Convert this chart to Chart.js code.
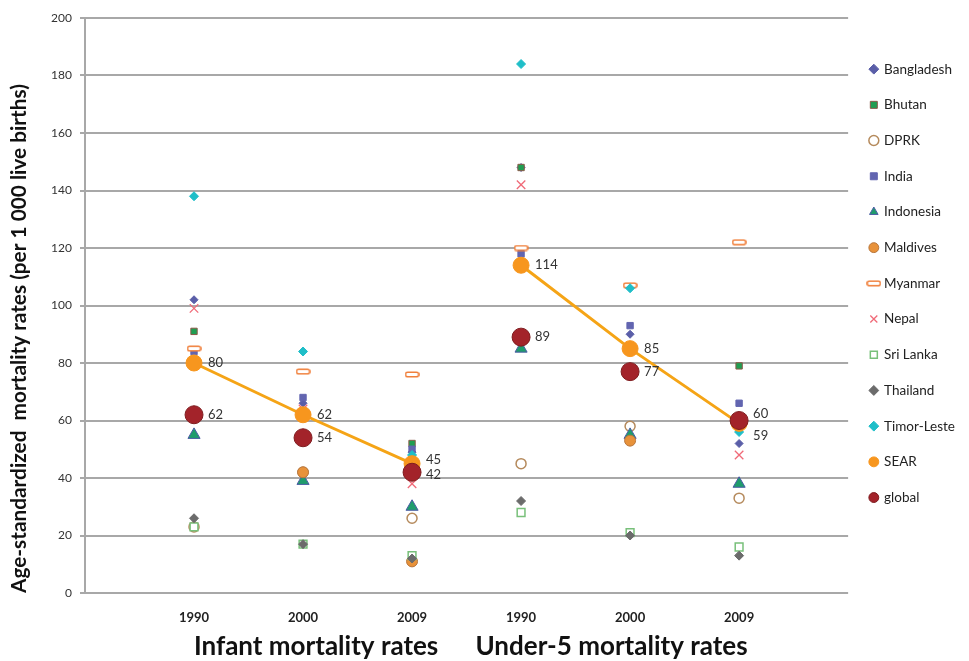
<!DOCTYPE html>
<html>
<head>
<meta charset="utf-8">
<script src="https://cdn.jsdelivr.net/npm/chart.js@4"></script>
<style>
  html, body { margin: 0; padding: 0; background: #fff; }
  #wrap { width: 969px; height: 661px; }
</style>
</head>
<body>
<div id="wrap"><canvas id="mortChart" width="969" height="661"></canvas></div>
<script>
// x positions 1..6 : infant 1990/2000/2009, under-5 1990/2000/2009
let yearLabels = ['1990', '2000', '2009', '1990', '2000', '2009'];
let groupTitles = ['Infant mortality rates', 'Under-5 mortality rates'];

let bangladesh = [102, 66, 49, 148, 90, 52];
let bhutan     = [91, null, 52, 148, null, 79];
let dprk       = [23, 42, 26, 45, 58, 33];
let india      = [84, 68, 50, 118, 93, 66];
let indonesia  = [55, 39, 30, 85, 55, 38];
let maldives   = [null, 42, 11, null, 53, null];
let myanmar    = [85, 77, 76, 120, 107, 122];
let nepal      = [99, 64, 38, 142, null, 48];
let sriLanka   = [23, 17, 13, 28, 21, 16];
let thailand   = [26, 17, 12, 32, 20, 13];
let timorLeste = [138, 84, 48, 184, 106, 56];
let sear       = [80, 62, 45, 114, 85, 59];
let global     = [62, 54, 42, 89, 77, 60];

// little hollow bar used as the Myanmar marker
function makeDash() {
  let c = document.createElement('canvas');
  c.width = 15; c.height = 7;
  let g = c.getContext('2d');
  g.fillStyle = '#fff';
  g.strokeStyle = '#f0803c';
  g.lineWidth = 1.6;
  g.beginPath();
  g.roundRect(1, 1.2, 13, 4.6, 2);
  g.fill();
  g.stroke();
  return c;
}

function toPoints(arr) {
  return arr.map((v, i) => ({x: i + 1, y: v}));
}

// SEAR is a line inside each group, broken between the groups
function searPoints(arr) {
  let pts = toPoints(arr);
  pts.splice(3, 0, {x: 3.5, y: null});
  return pts;
}

function marker(label, data, style, color, border, radius, bw) {
  return {
    label: label,
    data: toPoints(data),
    pointStyle: style,
    backgroundColor: color,
    borderColor: border,
    pointRadius: radius,
    pointBorderWidth: bw,
    showLine: false
  };
}

let datasets = [
  marker('Bangladesh', bangladesh, 'rectRot', '#5a5ea8', '#5a5ea8', 4, 1),
  marker('Bhutan', bhutan, 'rect', '#1f9e52', '#8a5a48', 4.5, 1),
  marker('DPRK', dprk, 'circle', '#ffffff', '#b58a5c', 5, 1.5),
  marker('India', india, 'rect', '#6265b0', '#6265b0', 4.5, 1),
  marker('Indonesia', indonesia, 'triangle', '#1f9c6c', '#4b5aa5', 7, 1),
  marker('Maldives', maldives, 'circle', '#e8923a', '#b8773e', 5.5, 1),
  marker('Myanmar', myanmar, makeDash(), '#f0803c', '#f0803c', 6, 1),
  marker('Nepal', nepal, 'crossRot', '#f06a78', '#f06a78', 6, 1.3),
  marker('Sri Lanka', sriLanka, 'rect', '#ffffff', '#78c07a', 5.5, 1.5),
  marker('Thailand', thailand, 'rectRot', '#6b6b6b', '#6b6b6b', 4.5, 1),
  marker('Timor-Leste', timorLeste, 'rectRot', '#1fbec8', '#1fbec8', 4.5, 1),
  {
    label: 'SEAR',
    data: searPoints(sear),
    pointStyle: 'circle',
    backgroundColor: '#f7961e',
    borderColor: '#f5a416',
    pointBorderColor: '#f7961e',
    pointRadius: 8,
    pointBorderWidth: 1,
    borderWidth: 3,
    showLine: true,
    spanGaps: false
  },
  marker('global', global, 'circle', '#a3232a', '#7e1b1e', 9, 1)
];
// later series sit on top, like the original
datasets.forEach((d, i) => { d.order = -i; });

// value labels next to SEAR and global points (dy per point)
let labelShift = {
  'SEAR':   [0, 0, -4, 0, 0, 12],
  'global': [0, 0, 3, 0, 0, -7]
};

let valueLabels = {
  id: 'valueLabels',
  afterDatasetsDraw(chart) {
    let ctx = chart.ctx;
    ctx.save();
    ctx.font = '13px Lato, "Liberation Sans", sans-serif';
    ctx.fillStyle = '#333';
    ctx.textBaseline = 'middle';
    ctx.textAlign = 'left';
    chart.data.datasets.forEach((ds, di) => {
      let shift = labelShift[ds.label];
      if (!shift) return;
      let meta = chart.getDatasetMeta(di);
      let k = 0;
      meta.data.forEach((el, j) => {
        let raw = ds.data[j];
        if (raw.y === null) return;
        ctx.fillText(String(raw.y), el.x + 14, el.y + shift[k]);
        k++;
      });
    });
    ctx.restore();
  }
};

let groupTitlePlugin = {
  id: 'groupTitles',
  afterDraw(chart) {
    let ctx = chart.ctx;
    let xs = chart.scales.x;
    ctx.save();
    ctx.font = 'bold 26px Lato, "Liberation Sans", sans-serif';
    ctx.fillStyle = '#111';
    ctx.textAlign = 'center';
    ctx.textBaseline = 'middle';
    ctx.fillText(groupTitles[0], xs.getPixelForValue(2.12), 647);
    ctx.fillText(groupTitles[1], xs.getPixelForValue(4.83), 647);
    ctx.restore();
  }
};

let ctx = document.getElementById('mortChart').getContext('2d');
let chart = new Chart(ctx, {
  type: 'scatter',
  data: { datasets: datasets },
  options: {
    responsive: false,
    animation: false,
    layout: { padding: { top: 18, right: 4, left: 0, bottom: 0 } },
    plugins: {
      tooltip: { enabled: false },
      legend: {
        position: 'right',
        align: 'start',
        title: {
          display: true,
          text: ' ',
          font: { size: 1 },
          padding: { top: 0, bottom: 21 }
        },
        labels: {
          usePointStyle: true,
          boxWidth: 7,
          boxHeight: 7,
          padding: 22.2,
          color: '#222',
          font: { family: 'Lato, "Liberation Sans", sans-serif', size: 13.5 },
          sort: (a, b) => a.datasetIndex - b.datasetIndex
        }
      }
    },
    scales: {
      x: {
        type: 'linear',
        min: 0,
        max: 7,
        afterFit: s => { s.height = 68; },
        afterBuildTicks: s => { s.ticks = [1, 2, 3, 4, 5, 6].map(v => ({value: v})); },
        ticks: {
          padding: 17,
          color: '#222',
          font: { family: 'Lato, "Liberation Sans", sans-serif', size: 13, weight: 'bold' },
          callback: v => yearLabels[v - 1] || ''
        },
        grid: { display: false, drawTicks: false },
        border: { display: false }
      },
      y: {
        min: 0,
        max: 200,
        afterFit: s => { s.width = 85; },
        ticks: {
          stepSize: 20,
          padding: 8,
          color: '#333',
          font: { family: 'Lato, "Liberation Sans", sans-serif', size: 12 }
        },
        grid: { color: '#a8a8a8', lineWidth: 2, tickLength: 5 },
        border: { display: true, color: '#a8a8a8', width: 2 },
        title: {
          display: true,
          align: 'start',
          text: 'Age-standardized  mortality rates (per 1 000 live births)',
          color: '#111',
          font: { family: 'Lato, "Liberation Sans", sans-serif', size: 20.8, weight: 'bold' },
          padding: { top: 7, bottom: 4 }
        }
      }
    }
  },
  plugins: [valueLabels, groupTitlePlugin]
});
</script>
</body>
</html>
